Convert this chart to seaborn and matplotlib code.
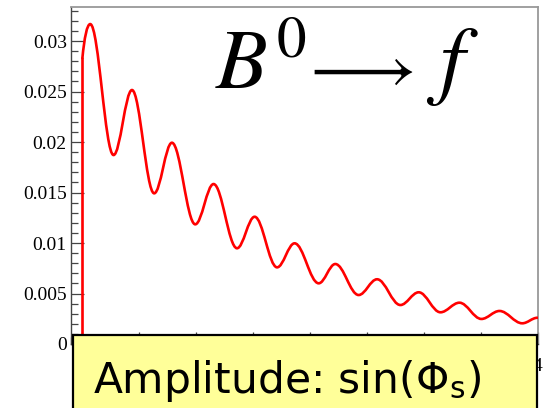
import matplotlib
matplotlib.use("Agg")
import matplotlib.pyplot as plt
import seaborn as sns
from matplotlib.path import Path
from matplotlib.patches import PathPatch, Rectangle
from matplotlib.ticker import FixedLocator, MultipleLocator

# Decay-time distribution for B0 -> f: turning points of the oscillating curve
# (first entry is the value right at t = 0, last entry is the value at t = 4)
t_points = [0.0, 0.069, 0.274, 0.436, 0.631, 0.787, 0.992, 1.153, 1.359, 1.514,
            1.711, 1.865, 2.077, 2.223, 2.428, 2.590, 2.795, 2.956, 3.147, 3.314,
            3.507, 3.666, 3.866, 4.0]
rate_points = [0.0283, 0.03168, 0.01871, 0.02515, 0.01492, 0.01993, 0.01185,
               0.01584, 0.00948, 0.01260, 0.00759, 0.00997, 0.00601, 0.00792,
               0.00485, 0.00641, 0.00386, 0.00512, 0.00314, 0.00409, 0.00248,
               0.00327, 0.00205, 0.0026]

# Zero rate before the decay starts
t_before = [-0.1, 0.0, 0.0]
rate_before = [0.0, 0.0, 0.0283]

y_ticks = [0.0, 0.005, 0.01, 0.015, 0.02, 0.025, 0.03]
y_tick_labels = ["0", "0.005", "0.01", "0.015", "0.02", "0.025", "0.03"]
x_ticks = [0.0, 0.5, 1.0, 1.5, 2.0, 2.5, 3.0, 3.5, 4.0]
x_tick_labels = ["0", "0.5", "1", "1.5", "2", "2.5", "3", "3.5", "4"]

# decay label, written as initial state, arrow, final state
title_initial = r"$B^{0}$"
title_arrow = r"$\longrightarrow$"
title_final = r"$f$"
box_text = r"Amplitude: sin(Φ$_\mathregular{s}$)"

sns.set_theme(style="ticks")
plt.rcParams["font.family"] = ["Liberation Serif", "DejaVu Sans"]
plt.rcParams["mathtext.fontset"] = "stix"

W, H = 543, 408
fig = plt.figure(figsize=(W / 100, H / 100), dpi=100)
fig.patch.set_facecolor("white")

# pad frame in pixel units
left, right, top, bottom = 71, 537.5, 7, 344
ax = fig.add_axes([left / W, (H - bottom) / H, (right - left) / W, (bottom - top) / H])
ax.set_facecolor("white")

sns.lineplot(x=t_before, y=rate_before, sort=False, color="red", linewidth=1.9,
             ax=ax, estimator=None)

# smooth curve through the turning points: flat tangents at each extremum
k = 0.364
verts = [(t_points[0], rate_points[0])]
codes = [Path.MOVETO]
for i in range(1, len(t_points)):
    t0, v0 = t_points[i - 1], rate_points[i - 1]
    t1, v1 = t_points[i], rate_points[i]
    dt = t1 - t0
    if i == 1:
        c1 = (t0 + 0.25 * dt, v0 + 0.6 * (v1 - v0))
        c2 = (t1 - 0.4 * dt, v1)
    else:
        c1 = (t0 + k * dt, v0)
        c2 = (t1 - k * dt, v1)
    verts += [c1, c2, (t1, v1)]
    codes += [Path.CURVE4] * 3
curve = PathPatch(Path(verts, codes), facecolor="none", edgecolor="red",
                  linewidth=1.9, transform=ax.transData, zorder=3,
                  capstyle="round", joinstyle="round")
ax.add_patch(curve)

ax.set_xlim(-0.1, 4.0)
ax.set_ylim(0, 0.03337)
ax.set_xlabel("")
ax.set_ylabel("")

ax.yaxis.set_major_locator(FixedLocator(y_ticks))
ax.set_yticklabels(y_tick_labels)
ax.yaxis.set_minor_locator(MultipleLocator(0.001))
ax.xaxis.set_major_locator(FixedLocator(x_ticks))
ax.set_xticklabels(x_tick_labels)
ax.xaxis.set_minor_locator(MultipleLocator(0.1))

ax.tick_params(axis="y", which="major", direction="in", length=9, width=0.9,
               color="#444444", labelsize=14, labelcolor="black", pad=3,
               right=False)
ax.tick_params(axis="y", which="minor", direction="in", length=5, width=0.9,
               color="#444444", right=False)
ax.tick_params(axis="x", which="major", direction="in", length=9, width=0.9,
               color="#444444", labelsize=14, labelcolor="black", pad=10,
               top=False)
ax.tick_params(axis="x", which="minor", direction="in", length=5, width=0.9,
               color="#444444", top=False)

for side in ("left", "bottom"):
    ax.spines[side].set_color("#444444")
    ax.spines[side].set_linewidth(1.0)
for side in ("top", "right"):
    ax.spines[side].set_color("#999999")
    ax.spines[side].set_linewidth(1.3)

fig.text(215 / W, 1 - 88 / H, title_initial, fontsize=61, ha="left",
         va="baseline", color="black")
fig.text(301 / W, 1 - 88 / H, title_arrow, fontsize=48, ha="left",
         va="baseline", color="black")
fig.text(426 / W, 1 - 88 / H, title_final, fontsize=64, ha="left",
         va="baseline", color="black")

# caption box laid over the lower edge of the pad
box = Rectangle((72.5 / W, -0.05), (536.5 - 72.5) / W, 0.05 + (H - 335) / H,
                transform=fig.transFigure, facecolor="#ffff99",
                edgecolor="black", linewidth=1.6, zorder=10)
fig.add_artist(box)
fig.text(93 / W, 1 - 393 / H, box_text, fontsize=30.5, family="DejaVu Sans",
         ha="left", va="baseline", color="black", zorder=11)

fig.savefig("out.png", dpi=100, facecolor="white")
